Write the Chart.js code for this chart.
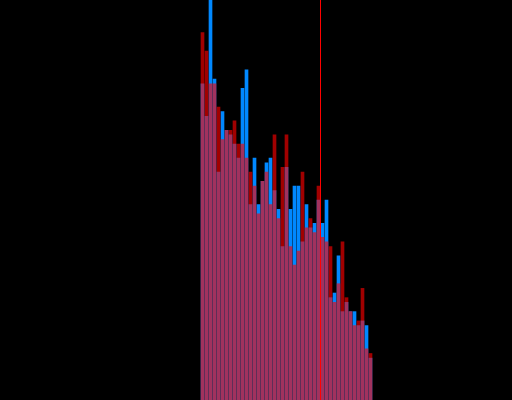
<!DOCTYPE html>
<html>
<head>
<meta charset="utf-8">
<script src="https://cdn.jsdelivr.net/npm/chart.js@4"></script>
<style>
    html, body { margin: 0; padding: 0; background: #000; }
    canvas { display: block; }
</style>
</head>
<body>
<canvas id="histograma" width="512" height="400"></canvas>
<script>
// bin index of each bar
var bins = [0, 1, 2, 3, 4, 5, 6, 7, 8, 9, 10, 11, 12, 13, 14, 15, 16, 17, 18, 19, 20,
    21, 22, 23, 24, 25, 26, 27, 28, 29, 30, 31, 32, 33, 34, 35, 36, 37, 38, 39, 40, 41, 42];

// counts per bin
var countsBlue = [68, 61, 90, 69, 49, 62, 58, 57, 55, 52, 67, 71, 42, 52, 42, 47, 51, 52, 45, 41, 33,
    50, 41, 46, 46, 34, 42, 37, 38, 43, 38, 43, 22, 23, 31, 19, 21, 19, 19, 16, 17, 16, 9];
var countsRed = [79, 75, 68, 68, 63, 56, 58, 58, 60, 55, 55, 52, 49, 46, 40, 47, 49, 42, 57, 39, 50,
    57, 33, 29, 32, 49, 37, 39, 36, 46, 35, 34, 33, 21, 25, 34, 22, 19, 16, 17, 24, 11, 10];

// vertical marker (between bin 29 and 30)
var markerValue = 29.5;

function toPoints(values) {
    return values.map(function (v, i) { return { x: bins[i], y: v }; });
}

var datosHistograma = {
    datasets: [
        {
            label: 'Red',
            data: toPoints(countsRed),
            backgroundColor: 'rgba(255, 0, 0, 0.63)',
            grouped: false,
            barThickness: 3,
            borderWidth: 0
        },
        {
            label: 'Blue',
            data: toPoints(countsBlue),
            backgroundColor: 'rgb(0, 136, 255)',
            grouped: false,
            barThickness: 3,
            borderWidth: 0
        }
    ]
};

var lineaMarcador = {
    id: 'lineaMarcador',
    beforeDraw: function (chart) {
        var ctx = chart.ctx;
        ctx.save();
        ctx.fillStyle = '#000';
        ctx.fillRect(0, 0, chart.width, chart.height);
        ctx.restore();
    },
    afterDatasetsDraw: function (chart) {
        var ctx = chart.ctx;
        var x = chart.scales.x.getPixelForValue(markerValue);
        ctx.save();
        ctx.strokeStyle = '#ff0000';
        ctx.lineWidth = 1;
        ctx.beginPath();
        ctx.moveTo(x, chart.chartArea.top);
        ctx.lineTo(x, chart.chartArea.bottom);
        ctx.stroke();
        ctx.restore();
    }
};

var opcionesHistograma = {
    responsive: false,
    animation: false,
    layout: { padding: 0 },
    plugins: {
        legend: { display: false },
        tooltip: { enabled: false }
    },
    scales: {
        x: {
            type: 'linear',
            display: false,
            offset: false,
            min: -50.625,
            max: 77.375
        },
        y: {
            display: false,
            min: 0,
            max: 86
        }
    }
};

var contextoHistograma = document.getElementById('histograma').getContext('2d');

var grafico = new Chart(contextoHistograma, {
    type: 'bar',
    data: datosHistograma,
    options: opcionesHistograma,
    plugins: [lineaMarcador]
});
</script>
</body>
</html>
